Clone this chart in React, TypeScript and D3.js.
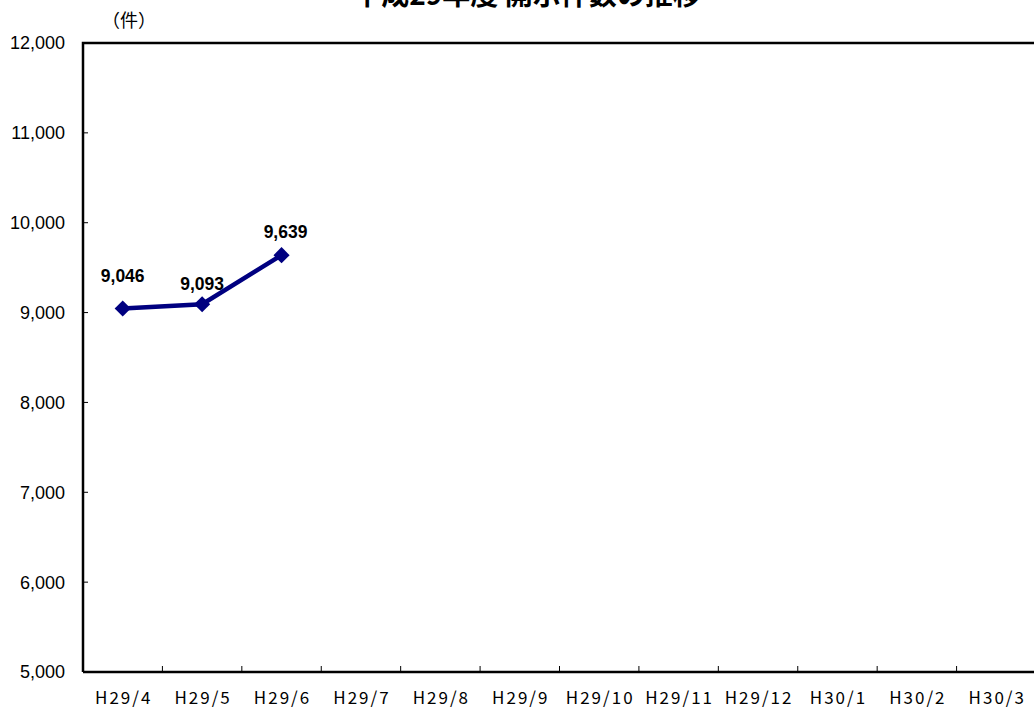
import * as d3 from "d3"

const months = ["H29/4", "H29/5", "H29/6", "H29/7", "H29/8", "H29/9", "H29/10", "H29/11", "H29/12", "H30/1", "H30/2", "H30/3"]
const counts = [9046, 9093, 9639]
const yTicks = [5000, 6000, 7000, 8000, 9000, 10000, 11000, 12000]

const W = 1034
const H = 708
const margin = { top: 43, right: -2, bottom: 36, left: 83 }
const FONT = "'Liberation Sans', 'Noto Sans CJK JP', sans-serif"
const JP = "'Noto Sans CJK JP', sans-serif"

export default function App() {
  const x = d3.scaleBand<string>().domain(months).range([margin.left, W - margin.right])
  const y = d3.scaleLinear().domain([5000, 12000]).range([H - margin.bottom, margin.top])
  const fmt = d3.format(",")

  const pts = counts.map((v, i) => [x(months[i])! + x.bandwidth() / 2, y(v)] as [number, number])
  const line = d3.line()(pts) || ""
  // square turned 45deg gives the wide diamond marker
  const diamond = d3.symbol(d3.symbolSquare, 130)() || ""

  // label offsets relative to point
  const labelDy = [-26, -14, -17]
  const labelDx = [0, 0, 4]

  return (
    <svg width={W} height={H} style={{ position: "absolute", left: 0, top: 0, background: "#fff" }} fontFamily={FONT}>
      <rect x={0} y={0} width={W} height={H} fill="#fff" />
      {/* title, cut at top */}
      <text x={527} y={5} textAnchor="middle" fontSize={28} fontWeight={700} fill="#000" fontFamily={JP}>
        平成29年度 開示件数の推移
      </text>
      <text x={129} y={27} textAnchor="middle" fontSize={18} fill="#000" fontFamily={JP}>
        （件）
      </text>

      {/* plot frame */}
      <path
        d={`M${margin.left},${y(5000)}V${y(12000)}H${W + 5}`}
        fill="none"
        stroke="#000"
        strokeWidth={2.5}
      />
      <line x1={margin.left} x2={W + 5} y1={y(5000)} y2={y(5000)} stroke="#000" strokeWidth={2.5} />

      {/* y ticks */}
      {yTicks.map((t) => (
        <g key={t}>
          {t > 5000 && t < 12000 && (
            <line x1={margin.left} x2={margin.left + 5} y1={y(t)} y2={y(t)} stroke="#000" strokeWidth={1} />
          )}
          <text x={65} y={y(t)} dy="0.36em" textAnchor="end" fontSize={18} fill="#000">
            {fmt(t)}
          </text>
        </g>
      ))}

      {/* x ticks */}
      {months.map((m, i) => (
        <g key={m}>
          {i > 0 && (
            <line x1={x(m)!} x2={x(m)!} y1={y(5000)} y2={y(5000) - 6} stroke="#000" strokeWidth={1} />
          )}
          <text
            x={x(m)! + x.bandwidth() / 2 + 1}
            y={698}
            dy="0.36em"
            textAnchor="middle"
            fontSize={17}
            letterSpacing={2}
            fill="#000"
            fontFamily={JP}
          >
            {m}
          </text>
        </g>
      ))}

      {/* series */}
      <path d={line} fill="none" stroke="#000080" strokeWidth={4.5} />
      {pts.map(([px, py], i) => (
        <path key={i} d={diamond} transform={`translate(${px},${py}) rotate(45)`} fill="#000080" />
      ))}
      {pts.map(([px, py], i) => (
        <text
          key={"l" + i}
          x={px + labelDx[i]}
          y={py + labelDy[i]}
          textAnchor="middle"
          fontSize={17.5}
          fontWeight={700}
          fill="#000"
        >
          {fmt(counts[i])}
        </text>
      ))}
    </svg>
  )
}
